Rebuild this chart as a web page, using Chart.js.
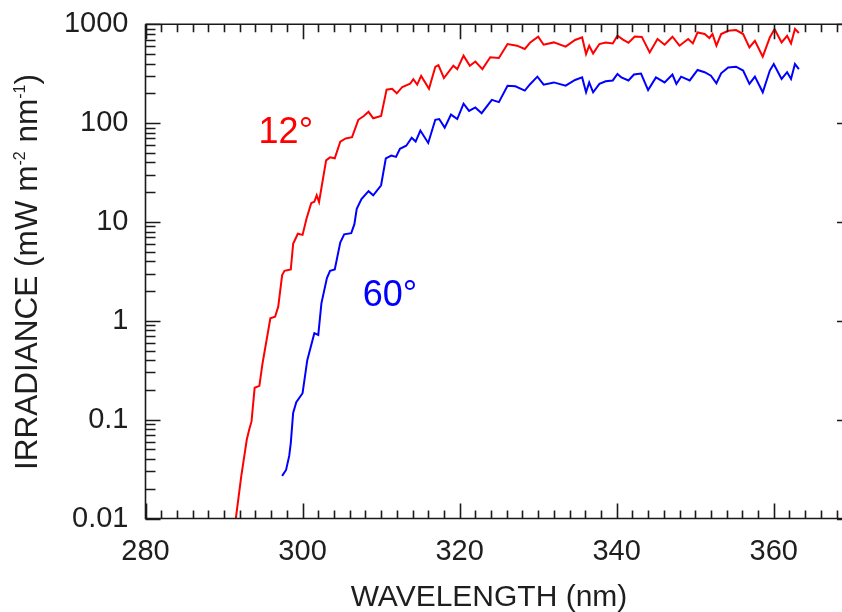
<!DOCTYPE html>
<html><head><meta charset="utf-8">
<script src="https://cdn.jsdelivr.net/npm/chart.js@4.4.1/dist/chart.umd.min.js"></script>
<style>
html,body{margin:0;padding:0;overflow:hidden;background:#fff;width:842px;height:612px}
#wrap{position:absolute;left:0;top:0;width:848px;height:612px}
</style>
</head><body><div id="wrap"><canvas id="c" width="848" height="612"></canvas></div>
<script>
// ---- data ----
const wavelength12 = [291.5,292.2,292.9,293.2,293.5,293.9,294.5,294.9,295.9,296.5,296.9,297.4,297.7,298.5,298.8,299.4,300.0,300.5,301.1,301.5,301.8,302.1,303.0,303.5,304.1,304.8,305.5,306.3,307.1,307.8,308.4,309.0,310.0,310.7,311.4,312.0,312.7,313.7,314.1,314.6,315.1,316.1,316.9,317.3,318.0,319.2,319.7,320.5,321.3,322.0,322.9,323.9,325.0,326.1,327.3,328.3,329.0,330.0,330.7,332.0,333.5,334.7,335.6,336.1,336.5,337.0,337.8,338.6,339.5,340.1,340.8,341.5,342.3,343.2,344.2,345.2,346.1,347.1,348.0,349.1,349.7,350.3,351.2,351.8,352.2,352.7,353.3,354.2,355.2,356.1,356.9,357.6,358.6,359.5,360.1,361.0,361.7,362.2,362.7,363.2];
const irradiance12 = [0.01,0.027,0.063,0.079,0.096,0.21,0.22,0.37,1.06,1.1,1.39,2.9,3.2,3.3,6.0,7.6,7.4,10.8,15.5,16,18.6,15.9,42,45,44,65,70,72,108,118,130,112,118,218,222,200,232,250,278,245,300,222,370,385,286,381,352,481,381,420,352,464,455,631,607,562,655,748,621,655,593,693,736,500,607,507,631,655,640,765,700,650,750,745,519,709,621,748,607,709,640,827,796,726,796,607,796,860,874,796,583,681,470,736,894,655,765,640,894,815];
const wavelength60 = [297.4,297.9,298.3,298.5,298.8,299.2,300.0,300.6,301.5,302.0,302.4,303.1,303.5,304.1,304.8,305.3,306.2,306.6,306.9,307.5,308.4,309.0,310.0,310.6,311.3,311.9,312.4,313.2,313.9,314.4,315.0,316.0,316.9,317.4,318.1,318.9,319.7,320.5,321.2,322.0,322.8,324.1,325.0,326.1,327.1,328.3,329.0,329.9,330.7,332.0,333.5,334.7,335.6,336.1,336.5,337.0,337.8,338.6,339.5,340.1,340.6,341.5,342.2,343.1,344.0,345.0,346.1,347.1,347.6,348.2,349.3,350.3,351.2,352.0,352.7,353.3,354.2,355.2,356.1,356.9,357.6,358.6,359.5,360.0,361.0,361.7,362.2,362.7,363.2];
const irradiance60 = [0.027,0.031,0.043,0.058,0.117,0.15,0.185,0.40,0.75,0.72,1.5,2.7,3.2,3.3,6.2,7.5,7.7,9.5,13.6,17,20.5,18.6,23.5,44,47,45.5,55,59,71,65,84,63,108,110,90,122,110,157,133,144,126,172,163,239,236,213,249,295,245,258,239,273,290,205,258,205,249,265,270,314,290,270,310,317,216,290,258,310,249,295,270,345,327,302,253,319,366,372,340,249,295,205,340,396,280,327,280,396,352];
const seriesLabels = ['12°','60°'];
const xTickValues = [280,300,320,340,360];
const xTickLabels = ['280','300','320','340','360'];
const yTickValues = [0.01,0.1,1,10,100,1000];
const yTickLabels = ['0.01','0.1','1','10','100','1000'];
const xTitle = 'WAVELENGTH (nm)';
const yTitleParts = [['IRRADIANCE (mW m',false],['-2',true],[' nm',false],['-1',true],[')',false]];

// ---- styles ----
const FONT = '"Liberation Sans", Arial, sans-serif';
const TXT = '#1e1e1e';
const RED = '#ff0000';
const BLUE = '#0000ff';

const framePlugin = {
  id: 'frame',
  afterDraw(chart) {
    const ctx = chart.ctx, a = chart.chartArea;
    const xs = chart.scales.x, ys = chart.scales.y;
    ctx.save();
    ctx.strokeStyle = '#1a1a1a';
    ctx.lineWidth = 1.6;
    ctx.beginPath();
    ctx.moveTo(a.left, a.top); ctx.lineTo(a.left, a.bottom); ctx.lineTo(a.right, a.bottom);
    ctx.moveTo(a.left, a.top); ctx.lineTo(a.right, a.top);
    ctx.lineTo(a.right, a.bottom);
    ctx.stroke();
    ctx.beginPath();
    for (let v = xs.min; v <= xs.max + 1e-9; v += 2) {
      const px = Math.round(xs.getPixelForValue(v)) + 0.5;
      const major = Math.abs(v % 20) < 1e-6;
      const len = major ? 15 : 8;
      ctx.moveTo(px, a.bottom); ctx.lineTo(px, a.bottom - len);
      ctx.moveTo(px, a.top); ctx.lineTo(px, a.top + len);
    }
    for (let d = -2; d <= 3; d++) {
      const base = Math.pow(10, d);
      for (let m = 1; m <= 9; m++) {
        const v = base * m;
        const py = Math.round(ys.getPixelForValue(v)) + 0.5;
        const len = m === 1 ? 15 : 10;
        ctx.moveTo(a.left, py); ctx.lineTo(a.left + len, py);
        if (m === 1) { ctx.moveTo(a.right, py); ctx.lineTo(a.right - 9, py); }
        if (d === 3) break;
      }
    }
    ctx.stroke();

    ctx.fillStyle = TXT;
    ctx.font = '30px ' + FONT;
    ctx.textAlign = 'center';
    ctx.textBaseline = 'alphabetic';
    ctx.fillText(xTitle, 489, 606);

    ctx.save();
    ctx.translate(37, 470);
    ctx.rotate(-Math.PI / 2);
    ctx.textAlign = 'left';
    let x = 0;
    for (const [t, sup] of yTitleParts) {
      ctx.font = (sup ? '16px ' : '31.5px ') + FONT;
      ctx.fillText(t, x, sup ? -12 : 0);
      x += ctx.measureText(t).width;
    }
    ctx.restore();

    ctx.font = '36px ' + FONT;
    ctx.textAlign = 'left';
    ctx.fillStyle = RED;
    ctx.fillText(seriesLabels[0], xs.getPixelForValue(294.4), ys.getPixelForValue(63));
    ctx.fillStyle = BLUE;
    ctx.fillText(seriesLabels[1], xs.getPixelForValue(307.65), ys.getPixelForValue(1.41));
    ctx.restore();
  }
};

const toPts = (xs, ys) => xs.map((w, i) => ({x: w, y: ys[i]}));

new Chart(document.getElementById('c'), {
  type: 'line',
  data: {
    datasets: [
      {label: seriesLabels[0], data: toPts(wavelength12, irradiance12), borderColor: RED, borderWidth: 2, pointRadius: 0, tension: 0, fill: false},
      {label: seriesLabels[1], data: toPts(wavelength60, irradiance60), borderColor: BLUE, borderWidth: 2, pointRadius: 0, tension: 0, fill: false}
    ]
  },
  options: {
    responsive: false,
    animation: false,
    devicePixelRatio: 1,
    layout: {padding: {left: 0, right: 2, top: 23.5, bottom: 0}},
    plugins: {legend: {display: false}, tooltip: {enabled: false}, title: {display: false}},
    scales: {
      x: {
        type: 'linear', min: 280, max: 369.2,
        grid: {display: false, drawTicks: false},
        border: {display: false},
        afterBuildTicks: s => { s.ticks = xTickValues.map(v => ({value: v})); },
        afterFit: s => { s.height = 93.5; },
        ticks: {
          font: {family: FONT, size: 29}, color: TXT, padding: 16,
          maxRotation: 0, autoSkip: false,
          callback: v => xTickLabels[xTickValues.indexOf(v)]
        }
      },
      y: {
        type: 'logarithmic', min: 0.01, max: 1000,
        grid: {display: false, drawTicks: false},
        border: {display: false},
        afterBuildTicks: s => { s.ticks = yTickValues.map(v => ({value: v})); },
        afterFit: s => { s.width = 145.5; },
        ticks: {
          font: {family: FONT, size: 29, lineHeight: 0.5}, color: TXT, padding: 17,
          autoSkip: false,
          callback: v => yTickLabels[yTickValues.indexOf(v)]
        }
      }
    }
  },
  plugins: [framePlugin]
});
</script>
</body></html>
